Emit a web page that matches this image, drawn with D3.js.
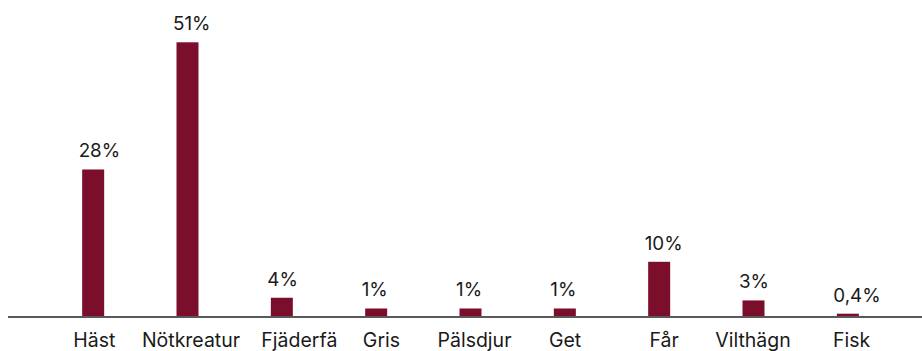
<!DOCTYPE html>
<html>
<head>
<meta charset="utf-8">
<script src="https://cdn.jsdelivr.net/npm/d3@7"></script>
<style>
  html, body { margin: 0; padding: 0; background: #ffffff; }
  svg { display: block; }
  text { font-family: Inter, "Noto Sans", sans-serif; fill: #1a1a1a; }
</style>
</head>
<body>
<div id="chart"></div>
<script>
const categories = ["Häst", "Nötkreatur", "Fjäderfä", "Gris", "Pälsdjur", "Get", "Får", "Vilthägn", "Fisk"];
const values = [27.3, 51.0, 3.4, 1.4, 1.4, 1.4, 10.1, 2.9, 0.43];
const valueLabels = ["28%", "51%", "4%", "1%", "1%", "1%", "10%", "3%", "0,4%"];

const W = 922, H = 351;
const baseY = 316;
const barW = 22;
// small horizontal nudges of category labels, as in the original layout
const labelShift = [0.6, 3, 17, 4.8, 3.5, -0.3, 4.5, -1, 3.2];

const svg = d3.select("#chart").append("svg").attr("width", W).attr("height", H);

const x = d3.scalePoint().domain(categories).range([46, 895]).padding(0.5);
const y = d3.scaleLinear().domain([0, 51]).range([baseY, 42.3]);

const data = categories.map((c, i) => ({ c, v: values[i], lab: valueLabels[i] }));

svg.selectAll("rect.bar").data(data).join("rect")
  .attr("class", "bar")
  .attr("x", d => x(d.c) - barW / 2)
  .attr("y", d => y(d.v))
  .attr("width", barW)
  .attr("height", d => baseY - y(d.v))
  .attr("fill", "#7b0e2a");

svg.selectAll("text.val").data(data).join("text")
  .attr("class", "val")
  .attr("x", d => x(d.c) - barW / 2 - 3.5)
  .attr("y", d => y(d.v) - 12)
  .attr("text-anchor", "start")
  .attr("font-size", 18.8)
  .text(d => d.lab);

// baseline axis
const axis = d3.axisBottom(x).tickSize(0).tickPadding(0);
const gAxis = svg.append("g").attr("transform", `translate(0,${baseY})`).call(axis);
gAxis.select(".domain").remove();
gAxis.append("line")
  .attr("x1", 8).attr("x2", W)
  .attr("y1", 1).attr("y2", 1)
  .attr("stroke", "#222").attr("stroke-width", 1.6);
gAxis.selectAll(".tick text")
  .attr("x", (d, i) => labelShift[i])
  .attr("y", 30.7)
  .attr("dy", 0)
  .attr("font-size", 19.5)
  .attr("font-family", "Inter, 'Noto Sans', sans-serif")
  .attr("fill", "#1a1a1a");
</script>
</body>
</html>
